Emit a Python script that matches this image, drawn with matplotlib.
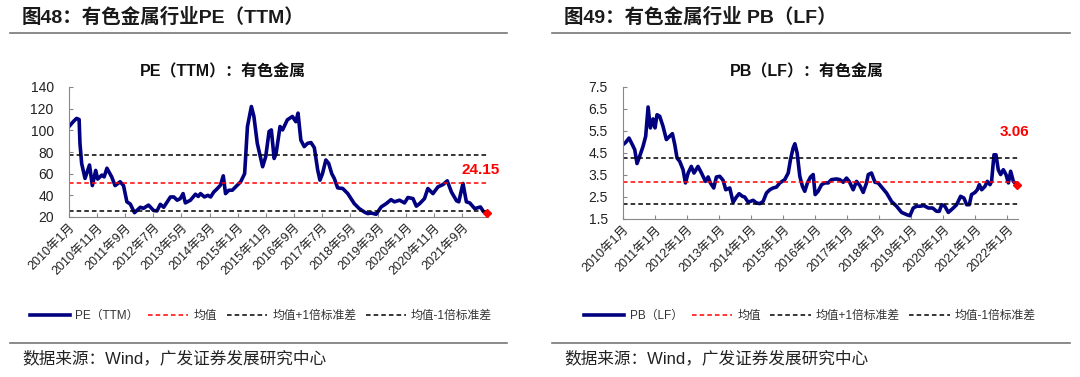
import matplotlib
matplotlib.use('Agg')
import matplotlib.pyplot as plt
import matplotlib.transforms as mtransforms
from matplotlib.lines import Line2D

plt.rcParams['font.family'] = ['Liberation Sans', 'Noto Sans CJK SC']
plt.rcParams['axes.unicode_minus'] = False

# PE(TTM): 月份偏移(自2010年1月起) 与数值
pe_month = [0, 1.5, 2.7, 3.6, 3.9, 4.5, 5.7, 7.3, 8.3, 9.5, 10.2, 11.7, 12.5, 13.5, 15.2,
            16.4, 18.2, 19.4, 20.6, 21.8, 23.3, 25.4, 26.5, 28.3, 30.1, 31.3, 32.5, 33.7,
            36.1, 37.3, 38.5, 39.6, 40.6, 41.4, 43.2, 45, 46, 46.8, 48.2, 49.4, 50.4, 51.5,
            52.7, 53.9, 54.9, 55.7, 56.9, 58.1, 59.9, 61.1, 62.5, 63.5, 64.9, 65.8, 67,
            68.9, 70, 71.2, 72, 73, 73.7, 75.1, 76, 77.7, 79.5, 80.7, 81.5, 82.5, 83.7,
            84.9, 86.1, 87.3, 88.5, 89.3, 90.2, 91.4, 92.4, 93.5, 94.4, 95.6, 97.4, 99.2,
            101.5, 103.3, 105.1, 106.3, 107.5, 109.3, 111.1, 112.9, 114.6, 115.8, 117.6,
            119.4, 120.6, 122.4, 123.6, 124.8, 126.5, 127.7, 129.5, 131.3, 133.1, 134.6,
            136.1, 137.9, 138.7, 140.2, 141.4, 142.6, 144.4, 146.4, 147.6, 148.6]
pe_value = [103.5, 108, 111, 110, 88, 69.5, 55.6, 68, 49, 63, 55, 58.7, 57, 65, 57,
            49, 52.5, 49, 34, 32, 24, 29, 28, 31, 26, 25.6, 31.7, 29,
            38.5, 38.5, 35.5, 37, 41.6, 33, 35.5, 41, 39, 41.6, 38.5, 40, 38.5, 43,
            46, 49.4, 58, 41.6, 44.7, 44.7, 49.4, 52.5, 60, 103.5, 122, 112.8, 88,
            66.4, 75.7, 98.9, 100.4, 74, 78.8, 103.5, 100.4, 109.7, 112.8, 108, 115.9, 91, 85,
            88, 88.7, 84, 63.3, 54, 60, 72.6, 69.5, 60, 55.6, 46.9, 46.3, 41.6,
            32.4, 27.7, 24.6, 23.1, 23.7, 22.5, 29.3, 32.4, 36, 34, 35.5,
            33, 38, 37, 30, 32.4, 37, 46.3, 41.6, 47.8, 50, 53.4,
            43, 35, 34, 51, 34, 33, 27.7, 29.3, 24.6, 24.15]
pe_mean, pe_up, pe_down = 51.2, 77.2, 25.6
pe_ticks = [0, 10, 20, 30, 40, 50, 60, 70, 80, 90, 100, 110, 120, 130, 140]
pe_labels = ['2010年1月', '2010年11月', '2011年9月', '2012年7月', '2013年5月', '2014年3月',
             '2015年1月', '2015年11月', '2016年9月', '2017年7月', '2018年5月', '2019年3月',
             '2020年1月', '2020年11月', '2021年9月']

# PB(LF)
pb_month = [0, 1, 2.25, 3.5, 4.4, 5.25, 6.25, 7.5, 8.5, 9.4,
            10.25, 11.25, 12, 12.75, 13.75, 15, 16.25, 17.5, 18.5, 19.4,
            20.25, 21.25, 22.5, 23.4, 24.4, 25.6, 26.6, 28.1, 29.4, 30.9,
            31.9, 32.75, 34, 35, 36.25, 37.5, 38.5, 40, 41.25, 42.5,
            43.5, 44.75, 45.6, 46.9, 47.75, 48.75, 50, 51.25, 52.5, 53.75,
            55, 56.25, 57.5, 58.75, 60.6, 61.9, 62.75, 63.75, 64.4, 65.25,
            66.25, 67.25, 68.1, 69.1, 70.25, 71.25, 72, 73.1, 74.4, 75.6,
            76.9, 78.1, 80, 81.25, 82.5, 83.75, 84.75, 86.25, 87.5, 88.75,
            90, 91.25, 91.9, 93.1, 94.4, 95.6, 96.9, 98.75, 100.6, 102.5,
            104.4, 106.25, 107.5, 108.75, 110, 111.25, 112.75, 114.4, 116, 117.5,
            118.5, 119.4, 120.6, 121.9, 123.75, 125, 126.5, 127.75, 128.75, 129.75,
            130.6, 131.9, 132.75, 133.5, 134.4, 135.6, 136.5, 137.5, 138.1, 139,
            139.75, 140.6, 141.5, 142.5, 143.5, 144.4, 145.25, 146.25, 147.5]
pb_value = [4.88, 4.98, 5.18, 4.88, 4.65, 4.02, 4.35, 4.8, 5.26, 6.59, 5.64, 6.05, 5.64, 6.24, 6.17,
            5.71, 5.11, 5.26, 5.38, 4.88, 4.27, 4.12, 3.74, 3.14, 3.59, 3.89, 3.59, 3.89,
            3.59, 3.21, 3.41, 3.14, 2.91, 3.41, 3.44, 3.26, 2.83, 2.91, 2.26, 2.5, 2.65,
            2.53, 2.5, 2.26, 2.3, 2.35, 2.23, 2.2, 2.3, 2.68, 2.83, 2.91, 2.95, 3.14,
            3.29, 3.59, 4.2, 4.73, 4.92, 4.5, 3.44, 2.98, 2.76, 3.14, 3.41, 3.52, 2.61, 2.76,
            3.06, 3.14, 3.14, 3.29, 3.32, 3.29, 3.17, 3.36, 3.21, 2.83, 3.21, 3.02, 2.71,
            3.14, 3.52, 3.59, 3.17, 3.14, 2.95, 2.68, 2.3, 2.08, 1.8, 1.7, 1.65, 2.0,
            2.08, 2.08, 2.11, 2.0, 2.0, 1.85, 1.85, 2.15, 2.08, 1.8, 2.0, 2.15,
            2.53, 2.45, 2.15, 2.15, 2.61, 2.71, 2.83, 3.06, 2.83, 2.98, 3.21, 3.06,
            3.21, 4.42, 4.42, 3.74, 3.52, 3.74, 3.52, 3.14, 3.67, 3.21, 3.06]
pb_mean, pb_up, pb_down = 3.2, 4.26, 2.2
pb_ticks = [0, 12, 24, 36, 48, 60, 72, 84, 96, 108, 120, 132, 144]
pb_labels = ['%d年1月' % y for y in range(2010, 2023)]

NAVY = '#000080'
fig = plt.figure(figsize=(10.8, 3.77), dpi=100)


def px(x, y):
    return x / 1080, 1 - y / 377


def draw_panel(rect, months, values, mean, up, down, ticks, labels, ylim, yticks,
               yfmt, title, subtitle, sub_x, name, last_txt, txt_xy, head_x0, head_x1,
               label_shift, legend_x):
    ax = fig.add_axes(rect)
    ax.plot(months, values, color=NAVY, lw=2.6, solid_joinstyle='round')
    ax.axhline(mean, color='red', ls=(0, (3, 2)), lw=1.1)
    ax.axhline(up, color='black', ls=(0, (3, 2)), lw=1.1)
    ax.axhline(down, color='black', ls=(0, (3, 2)), lw=1.1)
    ax.plot(months[-1], values[-1], marker='D', color='red', ms=4.5, clip_on=False, zorder=5)
    ax.set_xlim(months[0], months[-1] + 0.5)
    ax.set_ylim(*ylim)
    ax.set_yticks(yticks)
    ax.set_yticklabels([yfmt % v for v in yticks], fontsize=10, color='#222222')
    ax.set_xticks(ticks)
    ax.set_xticklabels(labels, rotation=45, ha='right', rotation_mode='anchor',
                       fontsize=9, color='#222222')
    off = mtransforms.ScaledTranslation(label_shift / 100, -10 / 100, fig.dpi_scale_trans)
    for lb in ax.get_xticklabels():
        lb.set_transform(lb.get_transform() + off)
    for s in ['top', 'right']:
        ax.spines[s].set_visible(False)
    for s in ['left', 'bottom']:
        ax.spines[s].set_color('#888888')
        ax.spines[s].set_linewidth(0.8)
    ax.tick_params(axis='both', direction='in', length=3, color='#888888', width=0.8)
    ax.tick_params(axis='y', pad=11)
    fig.text(*px(sub_x, 72), subtitle, fontsize=11.5, fontweight='bold',
             ha='center', va='center', color='#111111')
    ax.text(*txt_xy, last_txt, transform=fig.transFigure, color='red',
            fontsize=11, fontweight='bold', ha='center', va='center')

    # 标题、分隔线、来源
    fig.text(*px(head_x0 + 12, 17), title, fontsize=14, fontweight='bold',
             color='#1a1a1a', va='center', ha='left')
    for yy in (33, 343):
        fig.add_artist(Line2D([head_x0 / 1080, head_x1 / 1080], [1 - yy / 377] * 2,
                              color='#777777', lw=1.2))
    fig.text(*px(head_x0 + 12, 358), '数据来源：Wind，广发证券发展研究中心',
             fontsize=12, color='#222222', va='center', ha='left')

    handles = [Line2D([], [], color=NAVY, lw=2.6),
               Line2D([], [], color='red', ls=(0, (3, 2)), lw=1.1),
               Line2D([], [], color='black', ls=(0, (3, 2)), lw=1.1),
               Line2D([], [], color='black', ls=(0, (3, 2)), lw=1.1)]
    names = [name, '均值', '均值+1倍标准差', '均值-1倍标准差']
    fig.legend(handles, names, loc='center', bbox_to_anchor=(legend_x, 1 - 316 / 377),
               ncol=4, frameon=False, fontsize=8.5, handlelength=3.4,
               columnspacing=0.8, handletextpad=0.45, labelcolor='#333333')
    return ax


draw_panel([69 / 1080, 1 - 217 / 377, (488 - 69) / 1080, 130 / 377],
           pe_month, pe_value, pe_mean, pe_up, pe_down, pe_ticks, pe_labels,
           (20, 140), list(range(20, 141, 20)), '%d',
           '图48：有色金属行业PE（TTM）', 'PE（TTM）：有色金属', 223, 'PE（TTM）',
           '24.15', px(481, 170), 10, 507, 13, 0.2417)

draw_panel([623 / 1080, 1 - 219 / 377, (1018 - 623) / 1080, 132 / 377],
           pb_month, pb_value, pb_mean, pb_up, pb_down, pb_ticks, pb_labels,
           (1.5, 7.5), [1.5, 2.5, 3.5, 4.5, 5.5, 6.5, 7.5], '%.1f',
           '图49：有色金属行业 PB（LF）', 'PB（LF）：有色金属', 807, 'PB（LF）',
           '3.06', px(1015, 132), 552, 1070, 3, 0.75)

fig.savefig('out.png', dpi=100)
